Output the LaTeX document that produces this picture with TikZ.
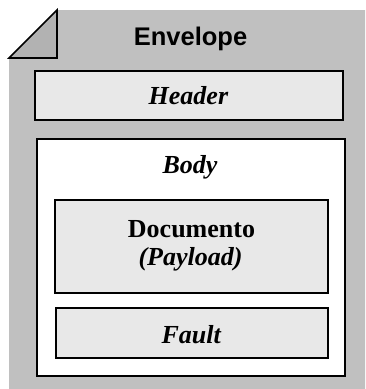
\documentclass[tikz,border=0pt]{standalone}
\usepackage{fontspec}
\setmainfont{Liberation Serif}
\newfontfamily\labelsans{Liberation Sans}
\definecolor{envgray}{HTML}{C0C0C0}
\definecolor{foldgray}{HTML}{B2B2B2}
\definecolor{boxgray}{HTML}{E8E8E8}
\tikzset{
  frame/.style={draw=black, line width=1.6pt, inner sep=0pt, rectangle},
  part/.style={frame, fill=boxgray},
  hole/.style={frame, fill=white},
  serifbig/.style={anchor=base, inner sep=0pt, font=\fontsize{26}{30}\selectfont},
  sansbig/.style={anchor=base, inner sep=0pt, font=\labelsans\bfseries\fontsize{25.5}{30}\selectfont}
}
\begin{document}
\begin{tikzpicture}[x=1pt, y=-1pt]
\useasboundingbox (0,0) rectangle (365,389);

% envelope sheet with a folded top-left corner
\fill[envgray] (9,58) -- (57,10) -- (365,10) -- (365,389) -- (9,389) -- cycle;
\filldraw[fill=foldgray, draw=black, line width=1.6pt, line join=miter]
  (9,58) -- (57,10) -- (57,58) -- cycle;
\node[sansbig] (envlabel) at (190.5,45) {Envelope};

% header block
\node[part, minimum width=308pt, minimum height=49pt] (header) at (189,95.5) {};
\node[serifbig] (headerlabel) at (188.5,104) {\textbf{\textit{Header}}};

% body block with its contents
\node[hole, minimum width=308pt, minimum height=237pt] (body) at (191,257.5) {};
\node[serifbig] (bodylabel) at (190,173) {\textbf{\textit{Body}}};

\node[part, minimum width=273pt, minimum height=93pt] (doc) at (191.5,246.5) {};
\node[serifbig] (doclabel) at (191.5,237) {\textbf{Documento}};
\node[serifbig] (payload) at (190.5,265) {\textbf{\textit{(Payload)}}};

\node[part, minimum width=272pt, minimum height=50pt] (fault) at (192,333) {};
\node[serifbig] (faultlabel) at (191.5,343) {\textbf{\textit{Fault}}};
\end{tikzpicture}
\end{document}
